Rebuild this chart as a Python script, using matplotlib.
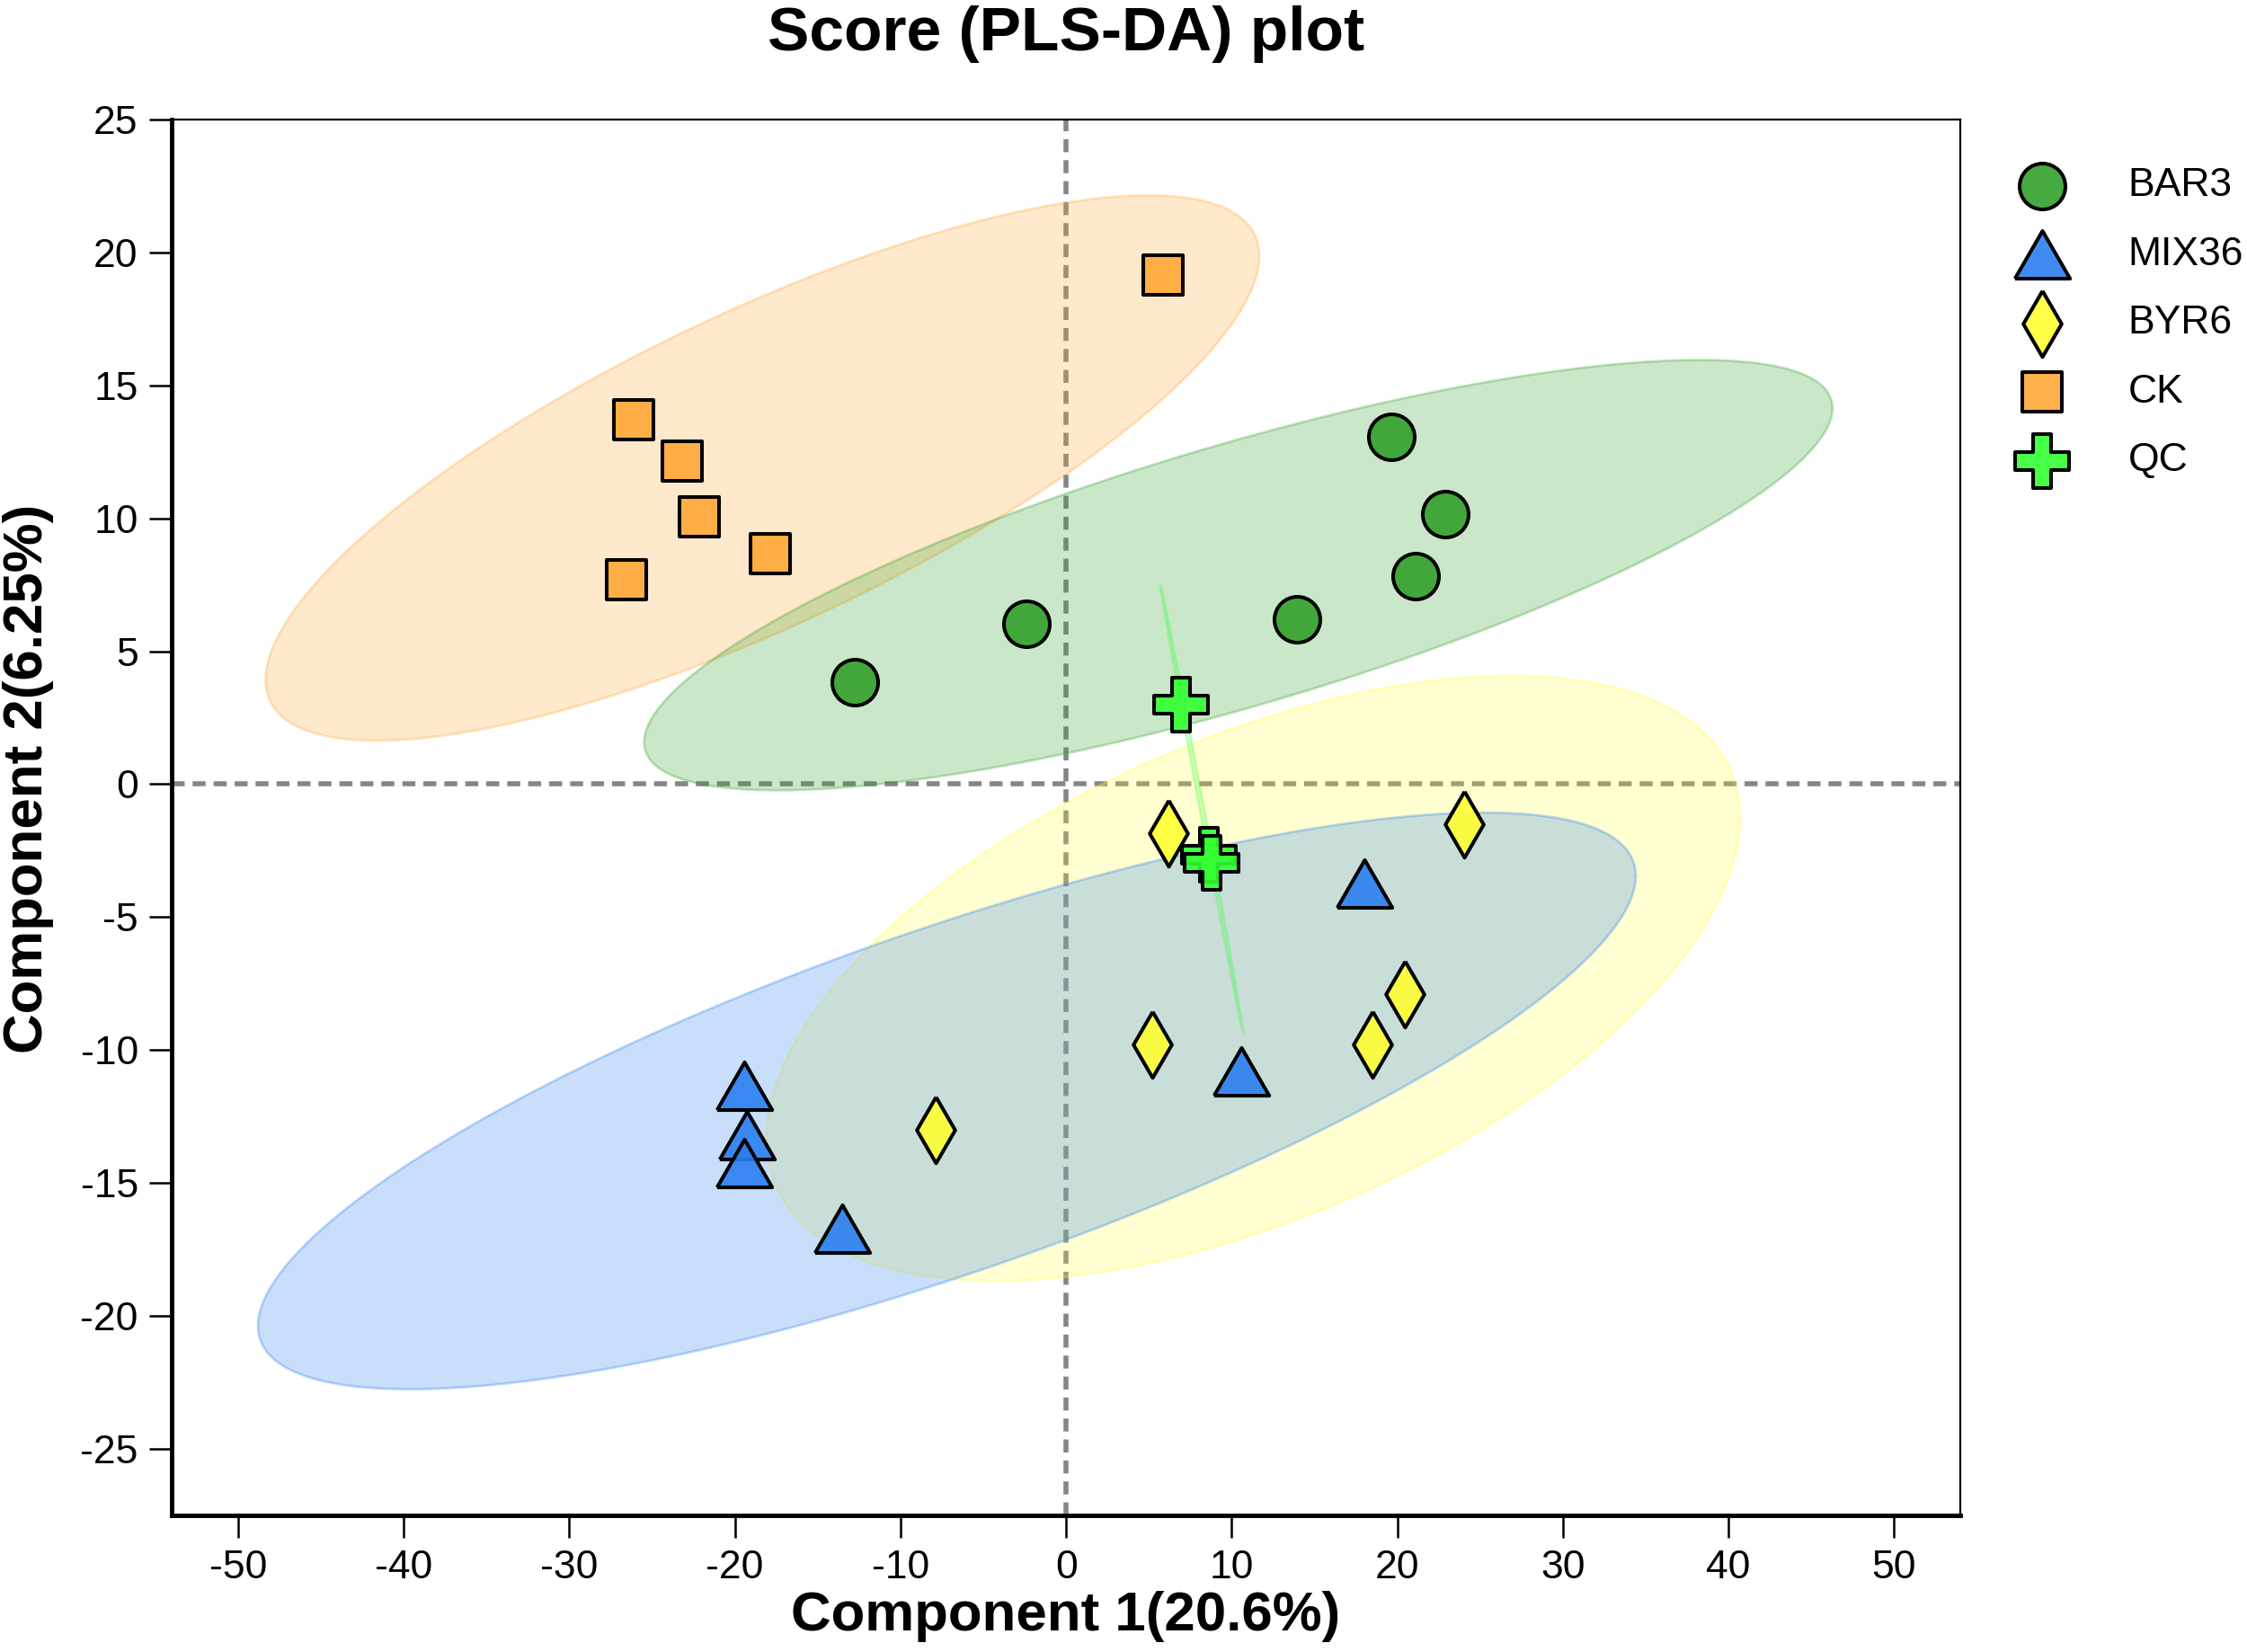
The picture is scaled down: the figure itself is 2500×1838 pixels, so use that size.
import numpy as np
import matplotlib
matplotlib.use("Agg")
import matplotlib.pyplot as plt

plt.rcParams['font.family'] = ['Liberation Sans', 'DejaVu Sans']
plt.rcParams['axes.unicode_minus'] = False

# ---------------- data ----------------
groups = ["BAR3", "MIX36", "BYR6", "CK", "QC"]

bar3_x = [-12.77, -2.41, 13.93, 19.63, 22.92, 21.13]
bar3_y = [3.85, 6.02, 6.21, 13.07, 10.15, 7.82]

mix36_x = [-19.43, -19.3, -19.43, -13.52, 10.59, 18.0]
mix36_y = [-11.33, -13.19, -14.25, -16.73, -10.8, -3.72]

byr6_x = [-7.9, 5.2, 6.2, 18.48, 20.47, 24.04]
byr6_y = [-13.01, -9.77, -1.86, -9.77, -7.88, -1.51]

ck_x = [5.83, -26.11, -23.19, -22.17, -17.86, -26.55]
ck_y = [19.13, 13.71, 12.14, 10.04, 8.66, 7.69]

qc_x = [6.95, 8.65, 8.8]
qc_y = [3.0, -2.65, -2.95]

# confidence ellipses: centre x, centre y, half-extent x, half-extent y, correlation
ell_ck = [-18.34, 11.89, 30.0, 10.25, 0.777]
ell_bar3 = [10.4, 7.86, 35.88, 8.09, 0.776]
ell_byr6 = [11.3, -7.3, 29.4, 11.37, 0.53]
ell_mix36 = [-7.2, -11.91, 41.6, 10.84, 0.78]
ell_qc = [8.2, -0.93, 2.5, 8.41, -0.9985]

xticks = [-50, -40, -30, -20, -10, 0, 10, 20, 30, 40, 50]
yticks = [-25, -20, -15, -10, -5, 0, 5, 10, 15, 20, 25]

# ---------------- styles ----------------
col = {"BAR3": "#33A02C", "MIX36": "#2B7FF0", "BYR6": "#FFFF33",
       "CK": "#FFA836", "QC": "#33FF33"}


def ellipse_xy(p, n=400):
    cx, cy, hx, hy, rho = p
    t = np.linspace(0, 2 * np.pi, n)
    x = cx + hx * np.cos(t)
    y = cy + hy * (rho * np.cos(t) + np.sqrt(1 - rho ** 2) * np.sin(t))
    return x, y


fig = plt.figure(figsize=(25, 18.38), dpi=100)
ax = fig.add_axes([0.0765, 0.0826, 0.7959, 0.8452])
ax.set_xlim(-54, 54)
ax.set_ylim(-27.5, 25)

# reference lines (under ellipses)
ax.axhline(0, color="#858585", lw=4, ls=(0, (2.6, 1.6)), zorder=1)
ax.axvline(0, color="#858585", lw=4, ls=(0, (2.6, 1.6)), zorder=1)

fill_alpha = {"CK": 0.25, "BAR3": 0.25, "BYR6": 0.22, "MIX36": 0.25, "QC": 0.2}
edge_alpha = {"CK": 0.3, "BAR3": 0.3, "BYR6": 0.3, "MIX36": 0.3, "QC": 0.25}
for name, p in [("CK", ell_ck), ("BAR3", ell_bar3), ("BYR6", ell_byr6),
                ("MIX36", ell_mix36), ("QC", ell_qc)]:
    ex, ey = ellipse_xy(p)
    ax.fill(ex, ey, facecolor=col[name], alpha=fill_alpha[name], edgecolor="none", zorder=2)
    ax.plot(ex, ey, color=col[name], alpha=edge_alpha[name], lw=2, zorder=2)

verts_tri = [(-1, -0.866), (1, -0.866), (0, 0.866), (-1, -0.866)]
verts_dia = [(0, 1), (0.58, 0), (0, -1), (-0.58, 0), (0, 1)]

series = [
    ("BAR3", bar3_x, bar3_y, "o", 1350),
    ("MIX36", mix36_x, mix36_y, verts_tri, 1950),
    ("BYR6", byr6_x, byr6_y, verts_dia, 2800),
    ("CK", ck_x, ck_y, "s", 1000),
    ("QC", qc_x, qc_y, "P", 1900),
]
for name, xs, ys, mk, s in series:
    fc = matplotlib.colors.to_rgba(col[name], 0.9)
    ax.scatter(xs, ys, marker=mk, s=s, facecolors=[fc], edgecolors="black",
               linewidths=2.9, zorder=5, label=name)

ax.set_xticks(xticks)
ax.set_yticks(yticks)
ax.tick_params(axis="both", direction="out", length=18, width=1.8,
               labelsize=32, pad=9, colors="black")

for side in ["left", "bottom"]:
    ax.spines[side].set_linewidth(3.5)
for side in ["top", "right"]:
    ax.spines[side].set_linewidth(1.6)

ax.set_xlabel("Component 1(20.6%)", fontsize=44.5, fontweight="bold", labelpad=4)
ax.set_ylabel("Component 2(6.25%)", fontsize=44.5, fontweight="bold", labelpad=10)
ax.yaxis.set_label_coords(-0.066, 0.528)
ax.set_title("Score (PLS-DA) plot", fontsize=50, fontweight="bold", pad=55)

leg = ax.legend(loc="upper left", bbox_to_anchor=(1.0144, 0.977), frameon=False,
                fontsize=32, labelspacing=0.8, handletextpad=1.15,
                handlelength=2.0, borderaxespad=0.0, scatterpoints=1)

fig.savefig("out.png", dpi=100)
